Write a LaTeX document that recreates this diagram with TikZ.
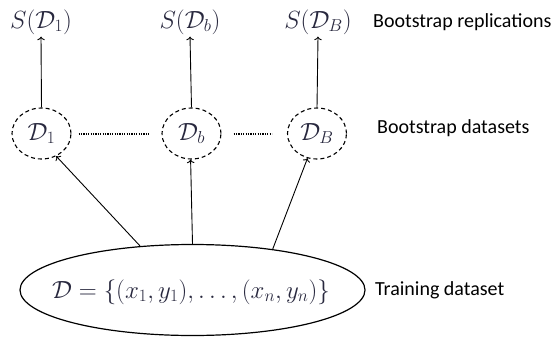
\documentclass[tikz,border=0pt]{standalone}
\usepackage{fontspec}
\newfontfamily\labfont{Carlito}
\usetikzlibrary{shapes.geometric,arrows.meta}
\definecolor{mathc}{RGB}{40,40,62}
\tikzset{
  mfont/.style={text=mathc, font=\fontsize{23}{27}\selectfont},
  mtext/.style={mfont, inner sep=2pt},
  dcirc/.style={ellipse, draw, dashed, dash pattern=on 4pt off 3pt, line width=1.1pt,
     minimum width=59pt, minimum height=51pt, inner sep=0pt, mfont},
  lab/.style={font=\labfont\fontsize{20}{24}\selectfont, anchor=west, inner sep=0pt},
  arr/.style={->, line width=0.9pt},
  dotl/.style={line width=2pt, dash pattern=on 1.3pt off 1.1pt},
}
\begin{document}
\begin{tikzpicture}[x=1pt,y=-1pt]
\useasboundingbox (0,0) rectangle (556,337);
\node[mtext] (s1) at (41,22) {$S(\mathcal{D}_1)$};
\node[mtext] (sb) at (190,22) {$S(\mathcal{D}_b)$};
\node[mtext] (sB) at (318,22) {$S(\mathcal{D}_B)$};
\node[dcirc] (d1) at (41.5,133.5) {$\mathcal{D}_1$};
\node[dcirc] (db) at (191.5,133.5) {$\mathcal{D}_b$};
\node[dcirc] (dB) at (317,133.5) {$\mathcal{D}_B$};
\node[ellipse, draw, line width=1.2pt, minimum width=345pt, minimum height=91pt, inner sep=0pt] (E) at (192.5,290) {};
\node[mfont, inner sep=0pt] (Et) at (191,292) {$\mathcal{D}=\{(x_1,y_1),\ldots,(x_n,y_n)\}$};
\draw[arr] (d1.north) -- (s1.south);
\draw[arr] (db.north) -- (sb.south);
\draw[arr] (dB.north) -- (sB.south);
\draw[dotl] ([xshift=7pt]d1.east) -- ([xshift=-11pt]db.west);
\draw[dotl] ([xshift=12pt]db.east) -- ([xshift=-15pt]dB.west);
\draw[arr] (E.140) -- (d1.-57);
\draw[arr] (E.90) -- (db.-92);
\draw[arr] (E.27) -- (dB.-111);
\node[lab] (l1) at (373,22) {Bootstrap replications};
\node[lab] (l2) at (377,128) {Bootstrap datasets};
\node[lab] (l3) at (375,290) {Training dataset};
\end{tikzpicture}
\end{document}
